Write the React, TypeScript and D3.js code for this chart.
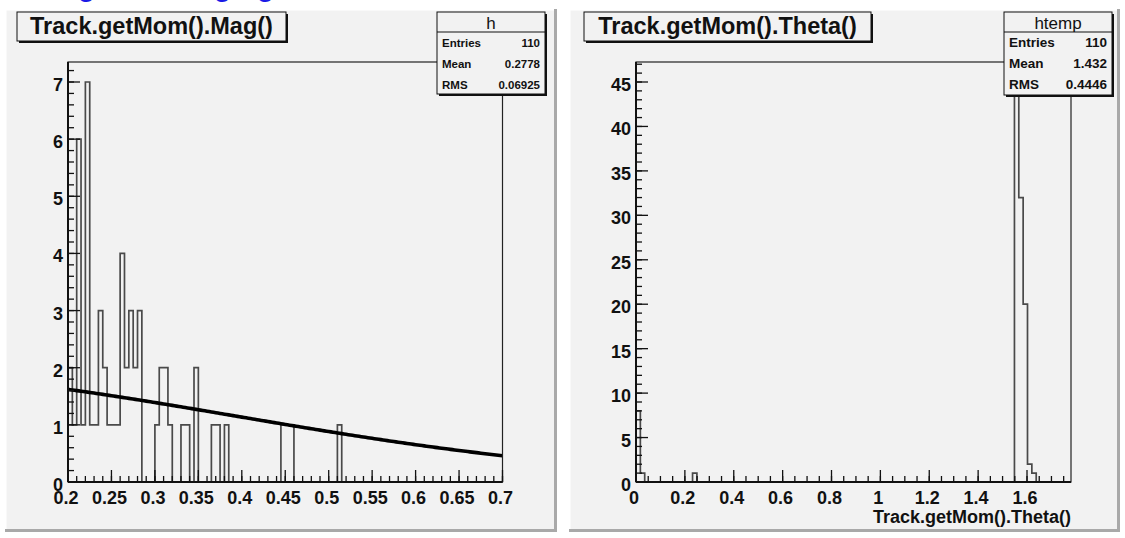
import React from "react";
import * as d3 from "d3";

// ---------- data ----------
const magTitle = "Track.getMom().Mag()";
const magRange: [number, number] = [0.2, 0.7];
// 100 bins of 0.005 from 0.2 to 0.7
const magCounts = [
  2, 1, 6, 1, 7, 1, 1, 3, 2, 1,
  1, 1, 4, 2, 3, 2, 3, 0, 0, 0,
  1, 2, 2, 1, 0, 0, 1, 1, 0, 2,
  0, 0, 0, 1, 1, 0, 1, 0, 0, 0,
  0, 0, 0, 0, 0, 0, 0, 0, 0, 1,
  1, 1, 0, 0, 0, 0, 0, 0, 0, 0,
  0, 0, 1, 0, 0, 0, 0, 0, 0, 0,
  0, 0, 0, 0, 0, 0, 0, 0, 0, 0,
  0, 0, 0, 0, 0, 0, 0, 0, 0, 0,
  0, 0, 0, 0, 0, 0, 0, 0, 0, 0,
];
const magYMax = 7.35;
const magXTickLabels = ["0.2", "0.25", "0.3", "0.35", "0.4", "0.45", "0.5", "0.55", "0.6", "0.65", "0.7"];
const magYTickLabels = ["0", "1", "2", "3", "4", "5", "6", "7"];
const magStatsName = "h";
const magStatsLabels = ["Entries", "Mean", "RMS"];
const magStatsValues = ["110", "0.2778", "0.06925"];
// gaussian fit parameters (constant, mean, sigma)
const magFitParams = [1.915, -0.06, 0.45];

const thetaTitle = "Track.getMom().Theta()";
const thetaRange: [number, number] = [0, 1.78];
const thetaCountsSparse: [number, number][] = [
  [0, 8], [1, 1], [13, 1], [87, 45], [88, 32], [89, 20], [90, 2], [91, 1],
];
const thetaNBins = 100;
const thetaYMax = 47.25;
const thetaXTickLabels = ["0", "0.2", "0.4", "0.6", "0.8", "1", "1.2", "1.4", "1.6"];
const thetaYTickLabels = ["0", "5", "10", "15", "20", "25", "30", "35", "40", "45"];
const thetaStatsName = "htemp";
const thetaStatsLabels = ["Entries", "Mean", "RMS"];
const thetaStatsValues = ["110", "1.432", "0.4446"];
const thetaXTitle = "Track.getMom().Theta()";

const thetaCounts = d3.range(thetaNBins).map(
  (i) => (thetaCountsSparse.find((b) => b[0] === i) || [i, 0])[1]
);

const FONT = "'Liberation Sans', Arial, Helvetica, sans-serif";
const PAD_FILL = "#f2f2f2";

type PanelProps = {
  pad: { x: number; y: number; w: number; h: number };
  frame: { x0: number; x1: number; y0: number; y1: number };
  titleBox: { x0: number; y0: number; x1: number; y1: number };
  title: string;
  statsBox: { x0: number; y0: number; x1: number; y1: number };
  statsName: string;
  statsLabels: string[];
  statsValues: string[];
  statsFont: number;
  counts: number[];
  xDomain: [number, number];
  yMax: number;
  xLabels: string[];
  yLabels: string[];
  xMinorStep: number;
  yMinorStep: number;
  fit?: number[];
  xTitle?: string;
};

function Panel(p: PanelProps) {
  const { frame } = p;
  const x = d3.scaleLinear().domain(p.xDomain).range([frame.x0, frame.x1]);
  const y = d3.scaleLinear().domain([0, p.yMax]).range([frame.y1, frame.y0]);

  const n = p.counts.length;
  const bw = (p.xDomain[1] - p.xDomain[0]) / n;
  let hist = `M${x(p.xDomain[0])},${y(0)}`;
  p.counts.forEach((c, i) => {
    const lo = x(p.xDomain[0] + i * bw);
    const hi = x(p.xDomain[0] + (i + 1) * bw);
    hist += `L${lo},${y(c)}L${hi},${y(c)}`;
  });
  hist += `L${x(p.xDomain[1])},${y(0)}`;

  const xMinor = d3
    .range(0, Math.floor((p.xDomain[1] - p.xDomain[0]) / p.xMinorStep + 1e-6) + 1)
    .map((i) => p.xDomain[0] + i * p.xMinorStep);
  const yMinor = d3
    .range(0, Math.floor(p.yMax / p.yMinorStep + 1e-6) + 1)
    .map((i) => i * p.yMinorStep);

  let fitPath: string | null = null;
  if (p.fit) {
    const [A, m, s] = p.fit;
    const pts = d3.range(0, 201).map((i) => p.xDomain[0] + (i / 200) * (p.xDomain[1] - p.xDomain[0]));
    fitPath = d3
      .line<number>()
      .x((v) => x(v))
      .y((v) => y(A * Math.exp(-0.5 * ((v - m) / s) ** 2)))(pts);
  }

  const { pad, titleBox: tb, statsBox: sb } = p;
  const TICK = 12;

  return (
    <g>
      {/* pad */}
      <rect x={pad.x} y={pad.y} width={pad.w} height={pad.h} fill={PAD_FILL} />
      <line x1={pad.x + 0.5} y1={pad.y} x2={pad.x + 0.5} y2={pad.y + pad.h} stroke="#ffffff" strokeWidth={2} />
      <line x1={pad.x} y1={pad.y + 0.5} x2={pad.x + pad.w} y2={pad.y + 0.5} stroke="#ffffff" strokeWidth={2} />
      <line x1={pad.x + pad.w - 1.5} y1={pad.y} x2={pad.x + pad.w - 1.5} y2={pad.y + pad.h} stroke="#a9a9a9" strokeWidth={3} />
      <line x1={pad.x} y1={pad.y + pad.h - 1.5} x2={pad.x + pad.w} y2={pad.y + pad.h - 1.5} stroke="#a9a9a9" strokeWidth={3} />

      {/* histogram */}
      <path d={hist} fill="none" stroke="#4a4a4a" strokeWidth={1.7} />
      {fitPath && <path d={fitPath} fill="none" stroke="#000" strokeWidth={3.6} />}

      {/* frame */}
      <rect x={frame.x0} y={frame.y0} width={frame.x1 - frame.x0} height={frame.y1 - frame.y0} fill="none" stroke="#222" strokeWidth={1.2} />
      <line x1={frame.x0} y1={frame.y1} x2={frame.x1} y2={frame.y1} stroke="#111" strokeWidth={2} />
      <line x1={frame.x0} y1={frame.y0} x2={frame.x0} y2={frame.y1} stroke="#111" strokeWidth={2} />

      {/* x ticks */}
      {xMinor.map((v, i) => (
        <line key={"xm" + i} x1={x(v)} x2={x(v)} y1={frame.y1} y2={frame.y1 - TICK / 2} stroke="#111" strokeWidth={1.3} />
      ))}
      {p.xLabels.map((l) => (
        <line key={"xM" + l} x1={x(+l)} x2={x(+l)} y1={frame.y1} y2={frame.y1 - TICK} stroke="#111" strokeWidth={1.3} />
      ))}
      {p.xLabels.map((l) => (
        <text key={"xl" + l} x={x(+l) - 2} y={frame.y1 + 22} fontSize={18} fontWeight="bold" textAnchor="middle" fill="#111">
          {l}
        </text>
      ))}

      {/* y ticks */}
      {yMinor.map((v, i) => (
        <line key={"ym" + i} x1={frame.x0} x2={frame.x0 + TICK / 2} y1={y(v)} y2={y(v)} stroke="#111" strokeWidth={1.3} />
      ))}
      {p.yLabels.map((l) => (
        <line key={"yM" + l} x1={frame.x0} x2={frame.x0 + TICK} y1={y(+l)} y2={y(+l)} stroke="#111" strokeWidth={1.3} />
      ))}
      {p.yLabels.map((l) => (
        <text key={"yl" + l} x={frame.x0 - 5} y={y(+l) + 9} fontSize={18} fontWeight="bold" textAnchor="end" fill="#111">
          {l}
        </text>
      ))}

      {p.xTitle && (
        <text x={frame.x1} y={frame.y1 + 41} fontSize={18} fontWeight="bold" textAnchor="end" fill="#111">
          {p.xTitle}
        </text>
      )}

      {/* title box */}
      <rect x={tb.x0 + 2} y={tb.y0 + 2} width={tb.x1 - tb.x0} height={tb.y1 - tb.y0} fill="#111" />
      <rect x={tb.x0} y={tb.y0} width={tb.x1 - tb.x0} height={tb.y1 - tb.y0} fill={PAD_FILL} stroke="#111" strokeWidth={1} />
      <text x={(tb.x0 + tb.x1) / 2} y={tb.y1 - 7} fontSize={23.5} fontWeight="bold" textAnchor="middle" fill="#111">
        {p.title}
      </text>

      {/* stats box */}
      <rect x={sb.x0 + 2} y={sb.y0 + 2} width={sb.x1 - sb.x0} height={sb.y1 - sb.y0} fill="#111" />
      <rect x={sb.x0} y={sb.y0} width={sb.x1 - sb.x0} height={sb.y1 - sb.y0} fill={PAD_FILL} stroke="#111" strokeWidth={1} />
      <line x1={sb.x0} x2={sb.x1} y1={sb.y0 + 20} y2={sb.y0 + 20} stroke="#111" strokeWidth={1.2} />
      <text x={(sb.x0 + sb.x1) / 2} y={sb.y0 + 17} fontSize={17} textAnchor="middle" fill="#111">
        {p.statsName}
      </text>
      {p.statsLabels.map((l, i) => (
        <g key={l}>
          <text x={sb.x0 + 5} y={sb.y0 + 35 + i * 21} fontSize={p.statsFont} fontWeight="bold" fill="#111">
            {l}
          </text>
          <text x={sb.x1 - 5} y={sb.y0 + 35 + i * 21} fontSize={p.statsFont} fontWeight="bold" textAnchor="end" fill="#111">
            {p.statsValues[i]}
          </text>
        </g>
      ))}
    </g>
  );
}

export default function App() {
  return (
    <svg
      width={1125}
      height={538}
      style={{ position: "absolute", left: 0, top: 0, display: "block" }}
      fontFamily={FONT}
    >
      <rect x={0} y={0} width={1125} height={538} fill="#ffffff" />
      {/* page heading cut off at the top (only descenders visible) */}
      <text y={-4.5} fontSize={28} fontWeight="bold" fill="#1a1ae6">
        <tspan x={78}>g</tspan>
        <tspan x={214}>g</tspan>
        <tspan x={257}>g</tspan>
      </text>

      <Panel
        pad={{ x: 5, y: 9, w: 552, h: 523 }}
        frame={{ x0: 68, x1: 502.5, y0: 62, y1: 482 }}
        titleBox={{ x0: 17, y0: 12, x1: 286, y1: 41 }}
        title={magTitle}
        statsBox={{ x0: 437, y0: 12, x1: 545, y1: 94 }}
        statsName={magStatsName}
        statsLabels={magStatsLabels}
        statsValues={magStatsValues}
        statsFont={11.5}
        counts={magCounts}
        xDomain={magRange}
        yMax={magYMax}
        xLabels={magXTickLabels}
        yLabels={magYTickLabels}
        xMinorStep={0.01}
        yMinorStep={0.2}
        fit={magFitParams}
      />
      <Panel
        pad={{ x: 569, y: 9, w: 551, h: 523 }}
        frame={{ x0: 636, x1: 1071, y0: 62, y1: 482 }}
        titleBox={{ x0: 584, y0: 12, x1: 871, y1: 41 }}
        title={thetaTitle}
        statsBox={{ x0: 1004, y0: 12, x1: 1112, y1: 95 }}
        statsName={thetaStatsName}
        statsLabels={thetaStatsLabels}
        statsValues={thetaStatsValues}
        statsFont={13.5}
        counts={thetaCounts}
        xDomain={thetaRange}
        yMax={thetaYMax}
        xLabels={thetaXTickLabels}
        yLabels={thetaYTickLabels}
        xMinorStep={0.05}
        yMinorStep={1}
        xTitle={thetaXTitle}
      />
    </svg>
  );
}
